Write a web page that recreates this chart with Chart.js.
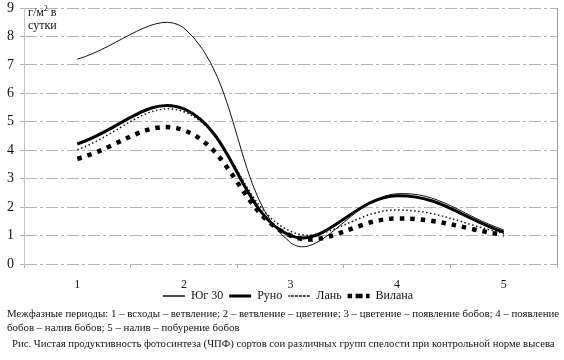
<!DOCTYPE html>
<html>
<head>
<meta charset="utf-8">
<script src="https://cdn.jsdelivr.net/npm/chart.js@4"></script>
<style>
    body { margin: 0; background: #fff; width: 564px; height: 360px; overflow: hidden; }
    #wrap { position: relative; width: 564px; height: 312px; }
    .note { font-family: "Liberation Serif", "Times New Roman", Times, "DejaVu Serif", serif; color: #111; white-space: nowrap; position: absolute; }
    #periods { left: 7px; top: 306px; line-height: 14px; font-size: 10.85px; }
    #caption { left: 12px; top: 337px; font-size: 10.7px; }
</style>
</head>
<body>
<div id="wrap"><canvas id="chart"></canvas></div>
<div id="periods" class="note">Межфазные периоды: 1 – всходы – ветвление; 2 – ветвление – цветение; 3 – цветение – появление бобов; 4 – появление<br>бобов – налив бобов; 5 – налив – побурение бобов</div>
<div id="caption" class="note">Рис. Чистая продуктивность фотосинтеза (ЧПФ) сортов сои различных групп спелости при контрольной норме высева</div>
<script>
// Межфазные периоды
const periods = ['1', '2', '3', '4', '5'];

// ЧПФ, г/м² в сутки
const yug30 = [7.2, 8.3, 0.75, 2.47, 1.2];
const runo = [4.22, 5.45, 1.0, 2.4, 1.12];
const lan = [4.02, 5.35, 1.15, 1.9, 1.08];
const vilana = [3.7, 4.7, 1.0, 1.6, 1.02];

const serif = '"Liberation Serif", "Times New Roman", Times, "DejaVu Serif", serif';

// Подпись оси Y внутри области графика
const unitLabel = {
    id: 'unitLabel',
    afterLayout(chart) {
        // подписи оси X заходят на легенду, как в оригинале
        chart.scales.x.bottom = chart.height;
        // легенда по центру области графика
        chart.legend.left = 18;
    },
    afterDatasetsDraw(chart) {
        const ctx = chart.ctx;
        const a = chart.chartArea;
        const x = a.left + 4;
        ctx.save();
        ctx.fillStyle = '#111';
        ctx.textBaseline = 'alphabetic';
        ctx.font = '12px ' + serif;
        ctx.fillText('г/м', x, a.top + 8);
        const w = ctx.measureText('г/м').width;
        ctx.font = '8px ' + serif;
        ctx.fillText('2', x + w, a.top + 3);
        ctx.font = '12px ' + serif;
        ctx.fillText(' в', x + w + 4, a.top + 8);
        ctx.fillText('сутки', x, a.top + 21);
        ctx.restore();
    }
};

const data = {
    labels: periods,
    datasets: [{
        label: 'Юг 30',
        data: yug30,
        borderColor: '#111',
        borderWidth: 1,
        tension: 0.4
    }, {
        label: 'Руно',
        data: runo,
        borderColor: '#000',
        borderWidth: 3,
        tension: 0.4
    }, {
        label: 'Лань',
        data: lan,
        borderColor: '#111',
        borderWidth: 1.5,
        borderDash: [1.5, 2.5],
        tension: 0.4
    }, {
        label: 'Вилана',
        data: vilana,
        borderColor: '#000',
        borderWidth: 4.5,
        borderDash: [4.5, 6],
        tension: 0.4
    }]
};

const config = {
    type: 'line',
    data,
    options: {
        responsive: true,
        maintainAspectRatio: false,
        animation: false,
        layout: { padding: { top: 8, right: 6, left: 0, bottom: 0 } },
        elements: { point: { radius: 0 } },
        plugins: {
            tooltip: { enabled: false },
            legend: {
                position: 'bottom',
                labels: {
                    boxWidth: 22,
                    boxHeight: 0,
                    padding: 6,
                    color: '#111',
                    font: { family: serif, size: 12 }
                }
            }
        },
        scales: {
            x: {
                offset: true,
                grid: { offset: true, drawOnChartArea: false, tickLength: 4, color: '#aaa' },
                border: { display: false },
                ticks: { color: '#111', padding: 10, font: { family: serif, size: 12 } },
                afterFit(scale) { scale.height = 20; }
            },
            y: {
                min: 0,
                max: 9,
                ticks: { stepSize: 1, color: '#111', padding: 6, font: { family: serif, size: 14 } },
                grid: { color: '#b4b4b4', tickLength: 4 },
                border: { color: '#c4c4c4', dash: [12, 3, 3, 3] },
                afterFit(scale) {
                    scale.width = 24;
                    scale.paddingTop = 0;
                    scale.paddingBottom = 0;
                }
            },
            y2: {
                position: 'right',
                min: 0,
                max: 9,
                ticks: { display: false },
                grid: { display: false },
                border: { color: '#999' },
                afterFit(scale) { scale.width = 1; }
            }
        }
    },
    plugins: [unitLabel]
};

const chart = new Chart(document.getElementById('chart'), config);
</script>
</body>
</html>
